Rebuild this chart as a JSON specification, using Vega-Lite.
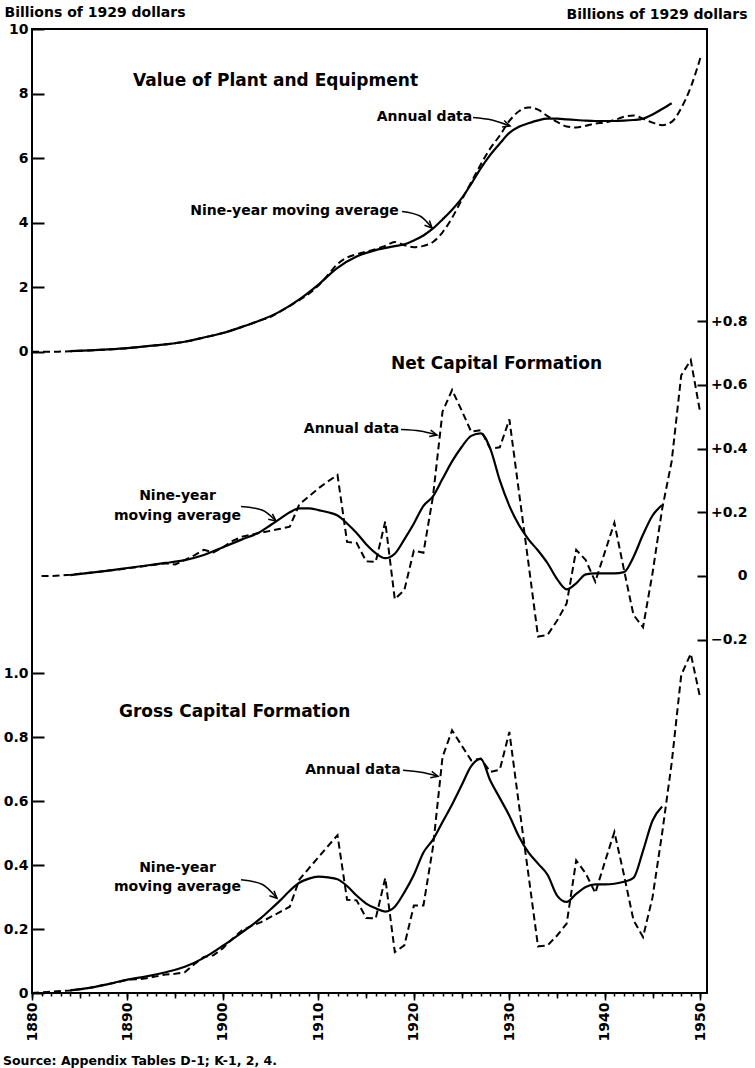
{
"$schema": "https://vega.github.io/schema/vega-lite/v6.json",
"width": 675,
"height": 964,
"autosize": {"type": "none"},
"padding": {"left": 32, "top": 29, "right": 48, "bottom": 75},
"background": "white",
"config": {
  "view": {"stroke": "black", "strokeWidth": 2},
  "font": "DejaVu Sans",
  "axis": {"labelFont": "DejaVu Sans", "labelFontWeight": "bold", "labelFontSize": 14, "labelColor": "black", "tickColor": "black", "tickWidth": 2, "domain": false, "grid": false, "labelFlush": false, "labelOverlap": false, "labelBound": false, "titleColor": "black", "titleFont": "DejaVu Sans", "titleFontWeight": "bold", "titleFontSize": 14}
},
"title": {"text": "Source: Appendix Tables D-1; K-1, 2, 4.", "orient": "bottom", "anchor": "start", "frame": "group", "fontSize": 12.5, "fontWeight": "bold", "font": "DejaVu Sans", "color": "black", "dx": -29, "offset": 14},
"datasets": {
"series": [
{"panel":"plant","kind":"annual","year":1880,"value":0},{"panel":"plant","kind":"annual","year":1881,"value":0},{"panel":"plant","kind":"annual","year":1882,"value":0},{"panel":"plant","kind":"annual","year":1883,"value":0.005},{"panel":"plant","kind":"annual","year":1884,"value":0.015},{"panel":"plant","kind":"annual","year":1885,"value":0.03},{"panel":"plant","kind":"annual","year":1886,"value":0.04},{"panel":"plant","kind":"annual","year":1887,"value":0.055},{"panel":"plant","kind":"annual","year":1888,"value":0.07},{"panel":"plant","kind":"annual","year":1889,"value":0.09},{"panel":"plant","kind":"annual","year":1890,"value":0.11},{"panel":"plant","kind":"annual","year":1891,"value":0.14},{"panel":"plant","kind":"annual","year":1892,"value":0.17},{"panel":"plant","kind":"annual","year":1893,"value":0.2},{"panel":"plant","kind":"annual","year":1894,"value":0.23},{"panel":"plant","kind":"annual","year":1895,"value":0.26},{"panel":"plant","kind":"annual","year":1896,"value":0.31},{"panel":"plant","kind":"annual","year":1897,"value":0.37},{"panel":"plant","kind":"annual","year":1898,"value":0.44},{"panel":"plant","kind":"annual","year":1899,"value":0.51},{"panel":"plant","kind":"annual","year":1900,"value":0.58},{"panel":"plant","kind":"annual","year":1901,"value":0.67},{"panel":"plant","kind":"annual","year":1902,"value":0.77},{"panel":"plant","kind":"annual","year":1903,"value":0.88},{"panel":"plant","kind":"annual","year":1904,"value":0.98},{"panel":"plant","kind":"annual","year":1905,"value":1.08},{"panel":"plant","kind":"annual","year":1906,"value":1.25},{"panel":"plant","kind":"annual","year":1907,"value":1.42},{"panel":"plant","kind":"annual","year":1908,"value":1.6},{"panel":"plant","kind":"annual","year":1909,"value":1.8},{"panel":"plant","kind":"annual","year":1910,"value":2.05},{"panel":"plant","kind":"annual","year":1911,"value":2.38},{"panel":"plant","kind":"annual","year":1912,"value":2.72},{"panel":"plant","kind":"annual","year":1913,"value":2.92},{"panel":"plant","kind":"annual","year":1914,"value":3.02},{"panel":"plant","kind":"annual","year":1915,"value":3.1},{"panel":"plant","kind":"annual","year":1916,"value":3.18},{"panel":"plant","kind":"annual","year":1917,"value":3.28},{"panel":"plant","kind":"annual","year":1918,"value":3.4},{"panel":"plant","kind":"annual","year":1919,"value":3.3},{"panel":"plant","kind":"annual","year":1920,"value":3.24},{"panel":"plant","kind":"annual","year":1921,"value":3.28},{"panel":"plant","kind":"annual","year":1922,"value":3.4},{"panel":"plant","kind":"annual","year":1923,"value":3.7},{"panel":"plant","kind":"annual","year":1924,"value":4.15},{"panel":"plant","kind":"annual","year":1925,"value":4.7},{"panel":"plant","kind":"annual","year":1926,"value":5.25},{"panel":"plant","kind":"annual","year":1927,"value":5.8},{"panel":"plant","kind":"annual","year":1928,"value":6.3},{"panel":"plant","kind":"annual","year":1929,"value":6.7},{"panel":"plant","kind":"annual","year":1930,"value":7.15},{"panel":"plant","kind":"annual","year":1931,"value":7.45},{"panel":"plant","kind":"annual","year":1932,"value":7.57},{"panel":"plant","kind":"annual","year":1933,"value":7.5},{"panel":"plant","kind":"annual","year":1934,"value":7.3},{"panel":"plant","kind":"annual","year":1935,"value":7.12},{"panel":"plant","kind":"annual","year":1936,"value":6.98},{"panel":"plant","kind":"annual","year":1937,"value":6.95},{"panel":"plant","kind":"annual","year":1938,"value":7.0},{"panel":"plant","kind":"annual","year":1939,"value":7.07},{"panel":"plant","kind":"annual","year":1940,"value":7.1},{"panel":"plant","kind":"annual","year":1941,"value":7.18},{"panel":"plant","kind":"annual","year":1942,"value":7.28},{"panel":"plant","kind":"annual","year":1943,"value":7.32},{"panel":"plant","kind":"annual","year":1944,"value":7.22},{"panel":"plant","kind":"annual","year":1945,"value":7.1},{"panel":"plant","kind":"annual","year":1946,"value":7.02},{"panel":"plant","kind":"annual","year":1947,"value":7.12},{"panel":"plant","kind":"annual","year":1948,"value":7.55},{"panel":"plant","kind":"annual","year":1949,"value":8.2},{"panel":"plant","kind":"annual","year":1950,"value":9.1},
{"panel":"plant","kind":"avg","year":1884,"value":0.02},{"panel":"plant","kind":"avg","year":1886,"value":0.04},{"panel":"plant","kind":"avg","year":1888,"value":0.07},{"panel":"plant","kind":"avg","year":1890,"value":0.11},{"panel":"plant","kind":"avg","year":1892,"value":0.17},{"panel":"plant","kind":"avg","year":1894,"value":0.23},{"panel":"plant","kind":"avg","year":1896,"value":0.31},{"panel":"plant","kind":"avg","year":1898,"value":0.44},{"panel":"plant","kind":"avg","year":1900,"value":0.58},{"panel":"plant","kind":"avg","year":1902,"value":0.77},{"panel":"plant","kind":"avg","year":1904,"value":0.98},{"panel":"plant","kind":"avg","year":1906,"value":1.25},{"panel":"plant","kind":"avg","year":1908,"value":1.62},{"panel":"plant","kind":"avg","year":1910,"value":2.08},{"panel":"plant","kind":"avg","year":1912,"value":2.6},{"panel":"plant","kind":"avg","year":1914,"value":2.95},{"panel":"plant","kind":"avg","year":1916,"value":3.15},{"panel":"plant","kind":"avg","year":1918,"value":3.27},{"panel":"plant","kind":"avg","year":1919,"value":3.33},{"panel":"plant","kind":"avg","year":1920,"value":3.45},{"panel":"plant","kind":"avg","year":1921,"value":3.6},{"panel":"plant","kind":"avg","year":1922,"value":3.82},{"panel":"plant","kind":"avg","year":1923,"value":4.1},{"panel":"plant","kind":"avg","year":1924,"value":4.4},{"panel":"plant","kind":"avg","year":1925,"value":4.75},{"panel":"plant","kind":"avg","year":1926,"value":5.2},{"panel":"plant","kind":"avg","year":1927,"value":5.68},{"panel":"plant","kind":"avg","year":1928,"value":6.1},{"panel":"plant","kind":"avg","year":1929,"value":6.45},{"panel":"plant","kind":"avg","year":1930,"value":6.78},{"panel":"plant","kind":"avg","year":1931,"value":6.97},{"panel":"plant","kind":"avg","year":1932,"value":7.08},{"panel":"plant","kind":"avg","year":1933,"value":7.17},{"panel":"plant","kind":"avg","year":1934,"value":7.22},{"panel":"plant","kind":"avg","year":1935,"value":7.22},{"panel":"plant","kind":"avg","year":1936,"value":7.2},{"panel":"plant","kind":"avg","year":1937,"value":7.18},{"panel":"plant","kind":"avg","year":1938,"value":7.16},{"panel":"plant","kind":"avg","year":1939,"value":7.15},{"panel":"plant","kind":"avg","year":1940,"value":7.15},{"panel":"plant","kind":"avg","year":1941,"value":7.15},{"panel":"plant","kind":"avg","year":1942,"value":7.16},{"panel":"plant","kind":"avg","year":1943,"value":7.18},{"panel":"plant","kind":"avg","year":1944,"value":7.22},{"panel":"plant","kind":"avg","year":1945,"value":7.35},{"panel":"plant","kind":"avg","year":1946,"value":7.52},{"panel":"plant","kind":"avg","year":1947,"value":7.7},
{"panel":"net","kind":"annual","year":1881,"value":0},{"panel":"net","kind":"annual","year":1882,"value":0},{"panel":"net","kind":"annual","year":1883,"value":0.002},{"panel":"net","kind":"annual","year":1884,"value":0.004},{"panel":"net","kind":"annual","year":1885,"value":0.007},{"panel":"net","kind":"annual","year":1886,"value":0.01},{"panel":"net","kind":"annual","year":1887,"value":0.013},{"panel":"net","kind":"annual","year":1888,"value":0.017},{"panel":"net","kind":"annual","year":1889,"value":0.02},{"panel":"net","kind":"annual","year":1890,"value":0.024},{"panel":"net","kind":"annual","year":1891,"value":0.028},{"panel":"net","kind":"annual","year":1892,"value":0.032},{"panel":"net","kind":"annual","year":1893,"value":0.036},{"panel":"net","kind":"annual","year":1894,"value":0.04},{"panel":"net","kind":"annual","year":1895,"value":0.036},{"panel":"net","kind":"annual","year":1896,"value":0.05},{"panel":"net","kind":"annual","year":1897,"value":0.065},{"panel":"net","kind":"annual","year":1898,"value":0.082},{"panel":"net","kind":"annual","year":1899,"value":0.074},{"panel":"net","kind":"annual","year":1900,"value":0.09},{"panel":"net","kind":"annual","year":1901,"value":0.11},{"panel":"net","kind":"annual","year":1902,"value":0.123},{"panel":"net","kind":"annual","year":1903,"value":0.13},{"panel":"net","kind":"annual","year":1904,"value":0.136},{"panel":"net","kind":"annual","year":1905,"value":0.142},{"panel":"net","kind":"annual","year":1906,"value":0.148},{"panel":"net","kind":"annual","year":1907,"value":0.155},{"panel":"net","kind":"annual","year":1908,"value":0.225},{"panel":"net","kind":"annual","year":1909,"value":0.25},{"panel":"net","kind":"annual","year":1910,"value":0.275},{"panel":"net","kind":"annual","year":1911,"value":0.297},{"panel":"net","kind":"annual","year":1912,"value":0.317},{"panel":"net","kind":"annual","year":1913,"value":0.107},{"panel":"net","kind":"annual","year":1914,"value":0.104},{"panel":"net","kind":"annual","year":1915,"value":0.046},{"panel":"net","kind":"annual","year":1916,"value":0.044},{"panel":"net","kind":"annual","year":1917,"value":0.171},{"panel":"net","kind":"annual","year":1918,"value":-0.073},{"panel":"net","kind":"annual","year":1919,"value":-0.044},{"panel":"net","kind":"annual","year":1920,"value":0.08},{"panel":"net","kind":"annual","year":1921,"value":0.073},{"panel":"net","kind":"annual","year":1922,"value":0.25},{"panel":"net","kind":"annual","year":1923,"value":0.516},{"panel":"net","kind":"annual","year":1924,"value":0.584},{"panel":"net","kind":"annual","year":1925,"value":0.52},{"panel":"net","kind":"annual","year":1926,"value":0.453},{"panel":"net","kind":"annual","year":1927,"value":0.458},{"panel":"net","kind":"annual","year":1928,"value":0.4},{"panel":"net","kind":"annual","year":1929,"value":0.404},{"panel":"net","kind":"annual","year":1930,"value":0.492},{"panel":"net","kind":"annual","year":1931,"value":0.265},{"panel":"net","kind":"annual","year":1932,"value":0.04},{"panel":"net","kind":"annual","year":1933,"value":-0.19},{"panel":"net","kind":"annual","year":1934,"value":-0.185},{"panel":"net","kind":"annual","year":1935,"value":-0.14},{"panel":"net","kind":"annual","year":1936,"value":-0.086},{"panel":"net","kind":"annual","year":1937,"value":0.082},{"panel":"net","kind":"annual","year":1938,"value":0.05},{"panel":"net","kind":"annual","year":1939,"value":-0.018},{"panel":"net","kind":"annual","year":1940,"value":0.075},{"panel":"net","kind":"annual","year":1941,"value":0.167},{"panel":"net","kind":"annual","year":1942,"value":0.02},{"panel":"net","kind":"annual","year":1943,"value":-0.122},{"panel":"net","kind":"annual","year":1944,"value":-0.161},{"panel":"net","kind":"annual","year":1945,"value":0.01},{"panel":"net","kind":"annual","year":1946,"value":0.21},{"panel":"net","kind":"annual","year":1947,"value":0.36},{"panel":"net","kind":"annual","year":1948,"value":0.63},{"panel":"net","kind":"annual","year":1949,"value":0.678},{"panel":"net","kind":"annual","year":1950,"value":0.511},
{"panel":"net","kind":"avg","year":1884,"value":0.003},{"panel":"net","kind":"avg","year":1886,"value":0.01},{"panel":"net","kind":"avg","year":1888,"value":0.017},{"panel":"net","kind":"avg","year":1890,"value":0.025},{"panel":"net","kind":"avg","year":1892,"value":0.033},{"panel":"net","kind":"avg","year":1894,"value":0.041},{"panel":"net","kind":"avg","year":1896,"value":0.05},{"panel":"net","kind":"avg","year":1898,"value":0.066},{"panel":"net","kind":"avg","year":1900,"value":0.09},{"panel":"net","kind":"avg","year":1902,"value":0.115},{"panel":"net","kind":"avg","year":1904,"value":0.14},{"panel":"net","kind":"avg","year":1905,"value":0.16},{"panel":"net","kind":"avg","year":1906,"value":0.18},{"panel":"net","kind":"avg","year":1907,"value":0.2},{"panel":"net","kind":"avg","year":1908,"value":0.212},{"panel":"net","kind":"avg","year":1909,"value":0.212},{"panel":"net","kind":"avg","year":1910,"value":0.207},{"panel":"net","kind":"avg","year":1911,"value":0.2},{"panel":"net","kind":"avg","year":1912,"value":0.19},{"panel":"net","kind":"avg","year":1913,"value":0.165},{"panel":"net","kind":"avg","year":1914,"value":0.135},{"panel":"net","kind":"avg","year":1915,"value":0.1},{"panel":"net","kind":"avg","year":1916,"value":0.072},{"panel":"net","kind":"avg","year":1917,"value":0.056},{"panel":"net","kind":"avg","year":1918,"value":0.07},{"panel":"net","kind":"avg","year":1919,"value":0.115},{"panel":"net","kind":"avg","year":1920,"value":0.165},{"panel":"net","kind":"avg","year":1921,"value":0.22},{"panel":"net","kind":"avg","year":1922,"value":0.25},{"panel":"net","kind":"avg","year":1923,"value":0.305},{"panel":"net","kind":"avg","year":1924,"value":0.36},{"panel":"net","kind":"avg","year":1925,"value":0.405},{"panel":"net","kind":"avg","year":1926,"value":0.44},{"panel":"net","kind":"avg","year":1927,"value":0.448},{"panel":"net","kind":"avg","year":1928,"value":0.4},{"panel":"net","kind":"avg","year":1929,"value":0.3},{"panel":"net","kind":"avg","year":1930,"value":0.22},{"panel":"net","kind":"avg","year":1931,"value":0.16},{"panel":"net","kind":"avg","year":1932,"value":0.115},{"panel":"net","kind":"avg","year":1933,"value":0.08},{"panel":"net","kind":"avg","year":1934,"value":0.04},{"panel":"net","kind":"avg","year":1935,"value":-0.01},{"panel":"net","kind":"avg","year":1936,"value":-0.042},{"panel":"net","kind":"avg","year":1937,"value":-0.023},{"panel":"net","kind":"avg","year":1938,"value":0.005},{"panel":"net","kind":"avg","year":1939,"value":0.008},{"panel":"net","kind":"avg","year":1940,"value":0.008},{"panel":"net","kind":"avg","year":1941,"value":0.008},{"panel":"net","kind":"avg","year":1942,"value":0.012},{"panel":"net","kind":"avg","year":1943,"value":0.06},{"panel":"net","kind":"avg","year":1944,"value":0.13},{"panel":"net","kind":"avg","year":1945,"value":0.19},{"panel":"net","kind":"avg","year":1946,"value":0.223},
{"panel":"gross","kind":"annual","year":1880,"value":0},{"panel":"gross","kind":"annual","year":1881,"value":0.002},{"panel":"gross","kind":"annual","year":1882,"value":0.004},{"panel":"gross","kind":"annual","year":1883,"value":0.006},{"panel":"gross","kind":"annual","year":1884,"value":0.008},{"panel":"gross","kind":"annual","year":1885,"value":0.012},{"panel":"gross","kind":"annual","year":1886,"value":0.016},{"panel":"gross","kind":"annual","year":1887,"value":0.022},{"panel":"gross","kind":"annual","year":1888,"value":0.028},{"panel":"gross","kind":"annual","year":1889,"value":0.034},{"panel":"gross","kind":"annual","year":1890,"value":0.042},{"panel":"gross","kind":"annual","year":1891,"value":0.043},{"panel":"gross","kind":"annual","year":1892,"value":0.046},{"panel":"gross","kind":"annual","year":1893,"value":0.052},{"panel":"gross","kind":"annual","year":1894,"value":0.058},{"panel":"gross","kind":"annual","year":1895,"value":0.06},{"panel":"gross","kind":"annual","year":1896,"value":0.065},{"panel":"gross","kind":"annual","year":1897,"value":0.09},{"panel":"gross","kind":"annual","year":1898,"value":0.113},{"panel":"gross","kind":"annual","year":1899,"value":0.118},{"panel":"gross","kind":"annual","year":1900,"value":0.14},{"panel":"gross","kind":"annual","year":1901,"value":0.17},{"panel":"gross","kind":"annual","year":1902,"value":0.196},{"panel":"gross","kind":"annual","year":1903,"value":0.21},{"panel":"gross","kind":"annual","year":1904,"value":0.222},{"panel":"gross","kind":"annual","year":1905,"value":0.238},{"panel":"gross","kind":"annual","year":1906,"value":0.254},{"panel":"gross","kind":"annual","year":1907,"value":0.27},{"panel":"gross","kind":"annual","year":1908,"value":0.355},{"panel":"gross","kind":"annual","year":1909,"value":0.39},{"panel":"gross","kind":"annual","year":1910,"value":0.425},{"panel":"gross","kind":"annual","year":1911,"value":0.46},{"panel":"gross","kind":"annual","year":1912,"value":0.494},{"panel":"gross","kind":"annual","year":1913,"value":0.292},{"panel":"gross","kind":"annual","year":1914,"value":0.29},{"panel":"gross","kind":"annual","year":1915,"value":0.235},{"panel":"gross","kind":"annual","year":1916,"value":0.233},{"panel":"gross","kind":"annual","year":1917,"value":0.36},{"panel":"gross","kind":"annual","year":1918,"value":0.128},{"panel":"gross","kind":"annual","year":1919,"value":0.149},{"panel":"gross","kind":"annual","year":1920,"value":0.274},{"panel":"gross","kind":"annual","year":1921,"value":0.274},{"panel":"gross","kind":"annual","year":1922,"value":0.457},{"panel":"gross","kind":"annual","year":1923,"value":0.739},{"panel":"gross","kind":"annual","year":1924,"value":0.822},{"panel":"gross","kind":"annual","year":1925,"value":0.775},{"panel":"gross","kind":"annual","year":1926,"value":0.728},{"panel":"gross","kind":"annual","year":1927,"value":0.734},{"panel":"gross","kind":"annual","year":1928,"value":0.692},{"panel":"gross","kind":"annual","year":1929,"value":0.699},{"panel":"gross","kind":"annual","year":1930,"value":0.817},{"panel":"gross","kind":"annual","year":1931,"value":0.59},{"panel":"gross","kind":"annual","year":1932,"value":0.37},{"panel":"gross","kind":"annual","year":1933,"value":0.146},{"panel":"gross","kind":"annual","year":1934,"value":0.149},{"panel":"gross","kind":"annual","year":1935,"value":0.18},{"panel":"gross","kind":"annual","year":1936,"value":0.217},{"panel":"gross","kind":"annual","year":1937,"value":0.415},{"panel":"gross","kind":"annual","year":1938,"value":0.374},{"panel":"gross","kind":"annual","year":1939,"value":0.313},{"panel":"gross","kind":"annual","year":1940,"value":0.41},{"panel":"gross","kind":"annual","year":1941,"value":0.504},{"panel":"gross","kind":"annual","year":1942,"value":0.37},{"panel":"gross","kind":"annual","year":1943,"value":0.228},{"panel":"gross","kind":"annual","year":1944,"value":0.175},{"panel":"gross","kind":"annual","year":1945,"value":0.3},{"panel":"gross","kind":"annual","year":1946,"value":0.5},{"panel":"gross","kind":"annual","year":1947,"value":0.72},{"panel":"gross","kind":"annual","year":1948,"value":0.995},{"panel":"gross","kind":"annual","year":1949,"value":1.062},{"panel":"gross","kind":"annual","year":1950,"value":0.922},
{"panel":"gross","kind":"avg","year":1884,"value":0.008},{"panel":"gross","kind":"avg","year":1886,"value":0.016},{"panel":"gross","kind":"avg","year":1888,"value":0.028},{"panel":"gross","kind":"avg","year":1890,"value":0.042},{"panel":"gross","kind":"avg","year":1892,"value":0.052},{"panel":"gross","kind":"avg","year":1894,"value":0.065},{"panel":"gross","kind":"avg","year":1896,"value":0.082},{"panel":"gross","kind":"avg","year":1898,"value":0.11},{"panel":"gross","kind":"avg","year":1900,"value":0.148},{"panel":"gross","kind":"avg","year":1902,"value":0.19},{"panel":"gross","kind":"avg","year":1904,"value":0.235},{"panel":"gross","kind":"avg","year":1905,"value":0.262},{"panel":"gross","kind":"avg","year":1906,"value":0.29},{"panel":"gross","kind":"avg","year":1907,"value":0.32},{"panel":"gross","kind":"avg","year":1908,"value":0.345},{"panel":"gross","kind":"avg","year":1909,"value":0.358},{"panel":"gross","kind":"avg","year":1910,"value":0.364},{"panel":"gross","kind":"avg","year":1911,"value":0.362},{"panel":"gross","kind":"avg","year":1912,"value":0.356},{"panel":"gross","kind":"avg","year":1913,"value":0.335},{"panel":"gross","kind":"avg","year":1914,"value":0.305},{"panel":"gross","kind":"avg","year":1915,"value":0.28},{"panel":"gross","kind":"avg","year":1916,"value":0.265},{"panel":"gross","kind":"avg","year":1917,"value":0.255},{"panel":"gross","kind":"avg","year":1918,"value":0.27},{"panel":"gross","kind":"avg","year":1919,"value":0.315},{"panel":"gross","kind":"avg","year":1920,"value":0.37},{"panel":"gross","kind":"avg","year":1921,"value":0.44},{"panel":"gross","kind":"avg","year":1922,"value":0.48},{"panel":"gross","kind":"avg","year":1923,"value":0.535},{"panel":"gross","kind":"avg","year":1924,"value":0.59},{"panel":"gross","kind":"avg","year":1925,"value":0.65},{"panel":"gross","kind":"avg","year":1926,"value":0.71},{"panel":"gross","kind":"avg","year":1927,"value":0.733},{"panel":"gross","kind":"avg","year":1928,"value":0.665},{"panel":"gross","kind":"avg","year":1929,"value":0.61},{"panel":"gross","kind":"avg","year":1930,"value":0.555},{"panel":"gross","kind":"avg","year":1931,"value":0.49},{"panel":"gross","kind":"avg","year":1932,"value":0.44},{"panel":"gross","kind":"avg","year":1933,"value":0.405},{"panel":"gross","kind":"avg","year":1934,"value":0.37},{"panel":"gross","kind":"avg","year":1935,"value":0.305},{"panel":"gross","kind":"avg","year":1936,"value":0.285},{"panel":"gross","kind":"avg","year":1937,"value":0.31},{"panel":"gross","kind":"avg","year":1938,"value":0.332},{"panel":"gross","kind":"avg","year":1939,"value":0.34},{"panel":"gross","kind":"avg","year":1940,"value":0.34},{"panel":"gross","kind":"avg","year":1941,"value":0.342},{"panel":"gross","kind":"avg","year":1942,"value":0.348},{"panel":"gross","kind":"avg","year":1943,"value":0.36},{"panel":"gross","kind":"avg","year":1944,"value":0.445},{"panel":"gross","kind":"avg","year":1945,"value":0.54},{"panel":"gross","kind":"avg","year":1946,"value":0.584}
],
"notes": [
{"panel":"plant","kind":"title","label":"Value of Plant and Equipment","year":1890.58,"value":8.39},
{"panel":"plant","kind":"note","label":"Annual data","year":1921.11,"value":7.273},
{"panel":"plant","kind":"note","label":"Nine-year moving average","year":1907.5,"value":4.36},
{"panel":"net","kind":"title","label":"Net Capital Formation","year":1917.6,"value":0.6656},
{"panel":"net","kind":"note","label":"Annual data","year":1913.47,"value":0.4615},
{"panel":"net","kind":"note","label":"Nine-year\nmoving average","year":1895.24,"value":0.2504},
{"panel":"gross","kind":"title","label":"Gross Capital Formation","year":1889.11,"value":0.8788},
{"panel":"gross","kind":"note","label":"Annual data","year":1913.62,"value":0.6972},
{"panel":"gross","kind":"note","label":"Nine-year\nmoving average","year":1895.24,"value":0.392}
],
"arrows": [
{"panel":"plant","id":"a1","part":"shaft","seq":1,"year":1926.19,"value":7.258},{"panel":"plant","id":"a1","part":"shaft","seq":2,"year":1928.18,"value":7.18},{"panel":"plant","id":"a1","part":"shaft","seq":3,"year":1930.07,"value":6.994},
{"panel":"plant","id":"a1","part":"head","seq":1,"year":1929.46,"value":7.165},{"panel":"plant","id":"a1","part":"head","seq":2,"year":1930.07,"value":6.994},{"panel":"plant","id":"a1","part":"head","seq":3,"year":1929.24,"value":6.966},
{"panel":"plant","id":"a2","part":"shaft","seq":1,"year":1918.76,"value":4.345},{"panel":"plant","id":"a2","part":"shaft","seq":2,"year":1920.64,"value":4.205},{"panel":"plant","id":"a2","part":"shaft","seq":3,"year":1921.9,"value":3.833},
{"panel":"plant","id":"a2","part":"head","seq":1,"year":1921.62,"value":4.066},{"panel":"plant","id":"a2","part":"head","seq":2,"year":1921.9,"value":3.833},{"panel":"plant","id":"a2","part":"head","seq":3,"year":1921.11,"value":3.917},
{"panel":"net","id":"b1","part":"shaft","seq":1,"year":1918.65,"value":0.46},{"panel":"net","id":"b1","part":"shaft","seq":2,"year":1920.64,"value":0.4553},{"panel":"net","id":"b1","part":"shaft","seq":3,"year":1922.42,"value":0.4427},
{"panel":"net","id":"b1","part":"head","seq":1,"year":1921.76,"value":0.4581},{"panel":"net","id":"b1","part":"head","seq":2,"year":1922.42,"value":0.4427},{"panel":"net","id":"b1","part":"head","seq":3,"year":1921.6,"value":0.4377},
{"panel":"net","id":"b2","part":"shaft","seq":1,"year":1901.89,"value":0.2182},{"panel":"net","id":"b2","part":"shaft","seq":2,"year":1904.09,"value":0.2072},{"panel":"net","id":"b2","part":"shaft","seq":3,"year":1905.56,"value":0.1727},
{"panel":"net","id":"b2","part":"head","seq":1,"year":1905.18,"value":0.195},{"panel":"net","id":"b2","part":"head","seq":2,"year":1905.56,"value":0.1727},{"panel":"net","id":"b2","part":"head","seq":3,"year":1904.74,"value":0.1783},
{"panel":"gross","id":"c1","part":"shaft","seq":1,"year":1918.86,"value":0.6972},{"panel":"gross","id":"c1","part":"shaft","seq":2,"year":1920.75,"value":0.691},{"panel":"gross","id":"c1","part":"shaft","seq":3,"year":1922.53,"value":0.6785},
{"panel":"gross","id":"c1","part":"head","seq":1,"year":1921.87,"value":0.6938},{"panel":"gross","id":"c1","part":"head","seq":2,"year":1922.53,"value":0.6785},{"panel":"gross","id":"c1","part":"head","seq":3,"year":1921.71,"value":0.6735},
{"panel":"gross","id":"c2","part":"shaft","seq":1,"year":1901.89,"value":0.3544},{"panel":"gross","id":"c2","part":"shaft","seq":2,"year":1904.09,"value":0.3403},{"panel":"gross","id":"c2","part":"shaft","seq":3,"year":1905.66,"value":0.2965},
{"panel":"gross","id":"c2","part":"head","seq":1,"year":1905.35,"value":0.3197},{"panel":"gross","id":"c2","part":"head","seq":2,"year":1905.66,"value":0.2965},{"panel":"gross","id":"c2","part":"head","seq":3,"year":1904.87,"value":0.3043}
]
},
"layer": [
{
 "encoding": {
  "x": {"field": "year", "type": "quantitative", "scale": {"domain": [1880, 1950.7], "nice": false, "zero": false}, "axis": {"orient": "bottom", "title": null, "labels": false, "tickSize": 3, "tickWidth": 1.5, "values": [1880,1881,1882,1883,1884,1885,1886,1887,1888,1889,1890,1891,1892,1893,1894,1895,1896,1897,1898,1899,1900,1901,1902,1903,1904,1905,1906,1907,1908,1909,1910,1911,1912,1913,1914,1915,1916,1917,1918,1919,1920,1921,1922,1923,1924,1925,1926,1927,1928,1929,1930,1931,1932,1933,1934,1935,1936,1937,1938,1939,1940,1941,1942,1943,1944,1945,1946,1947,1948,1949,1950]}},
  "y": {"field": "value", "type": "quantitative", "scale": {"domain": [-19.87, 10], "nice": false, "zero": false}, "axis": {"orient": "left", "values": [0, 2, 4, 6, 8, 10], "format": "d", "ticks": false, "labelPadding": 4, "grid": true, "gridColor": "black", "gridWidth": 2, "gridOpacity": 1, "gridDash": [12, 2000], "title": "Billions of 1929 dollars", "titleAngle": 0, "titleAlign": "left", "titleBaseline": "middle", "titleX": -28, "titleY": -17}}
 },
 "layer": [
  {"data": {"name": "series"}, "transform": [{"filter": "datum.panel == 'plant' && datum.kind == 'annual'"}], "mark": {"type": "line", "stroke": "black", "strokeWidth": 2, "strokeDash": [7, 4], "interpolate": "monotone"}},
  {"data": {"name": "series"}, "transform": [{"filter": "datum.panel == 'plant' && datum.kind == 'avg'"}], "mark": {"type": "line", "stroke": "black", "strokeWidth": 2.2, "interpolate": "monotone"}},
  {"data": {"name": "notes"}, "transform": [{"filter": "datum.panel == 'plant' && datum.kind == 'title'"}], "mark": {"type": "text", "align": "left", "baseline": "middle", "fontSize": 17, "fontWeight": "bold", "color": "black"}, "encoding": {"text": {"field": "label"}}},
  {"data": {"name": "notes"}, "transform": [{"filter": "datum.panel == 'plant' && datum.kind == 'note'"}], "mark": {"type": "text", "align": "center", "baseline": "middle", "fontSize": 14, "fontWeight": "bold", "color": "black", "lineBreak": "\n", "lineHeight": 19.5}, "encoding": {"text": {"field": "label"}}},
  {"data": {"name": "arrows"}, "transform": [{"filter": "datum.panel == 'plant' && datum.part == 'shaft'"}], "mark": {"type": "line", "stroke": "black", "strokeWidth": 1.5, "interpolate": "monotone"}, "encoding": {"detail": {"field": "id"}, "order": {"field": "seq"}}},
  {"data": {"name": "arrows"}, "transform": [{"filter": "datum.panel == 'plant' && datum.part == 'head'"}], "mark": {"type": "line", "stroke": "black", "strokeWidth": 1.5}, "encoding": {"detail": {"field": "id"}, "order": {"field": "seq"}}}
 ]
},
{
 "encoding": {
  "x": {"field": "year", "type": "quantitative", "scale": {"domain": [1880, 1950.7], "nice": false, "zero": false}, "axis": {"orient": "bottom", "title": null, "labels": false, "tickSize": 5, "tickWidth": 1.5, "values": [1880,1885,1890,1895,1900,1905,1910,1915,1920,1925,1930,1935,1940,1945,1950]}},
  "y": {"field": "value", "type": "quantitative", "scale": {"domain": [-1.3093, 1.7174], "nice": false, "zero": false}, "axis": {"orient": "right", "values": [-0.2, 0, 0.2, 0.4, 0.6, 0.8], "labelExpr": "datum.value > 0 ? '+' + format(datum.value, '.1f') : (datum.value < 0 ? '\u2212' + format(-datum.value, '.1f') : '0')", "labelAlign": "right", "ticks": false, "labelPadding": 40, "grid": true, "gridColor": "black", "gridWidth": 2, "gridOpacity": 1, "gridDash": [10, 2000], "title": "Billions of 1929 dollars", "titleAngle": 0, "titleAlign": "right", "titleBaseline": "middle", "titleX": 40, "titleY": -15}}
 },
 "layer": [
  {"data": {"name": "series"}, "transform": [{"filter": "datum.panel == 'net' && datum.kind == 'annual'"}], "mark": {"type": "line", "stroke": "black", "strokeWidth": 2, "strokeDash": [7, 4]}},
  {"data": {"name": "series"}, "transform": [{"filter": "datum.panel == 'net' && datum.kind == 'avg'"}], "mark": {"type": "line", "stroke": "black", "strokeWidth": 2.2, "interpolate": "monotone"}},
  {"data": {"name": "notes"}, "transform": [{"filter": "datum.panel == 'net' && datum.kind == 'title'"}], "mark": {"type": "text", "align": "left", "baseline": "middle", "fontSize": 17, "fontWeight": "bold", "color": "black"}, "encoding": {"text": {"field": "label"}}},
  {"data": {"name": "notes"}, "transform": [{"filter": "datum.panel == 'net' && datum.kind == 'note'"}], "mark": {"type": "text", "align": "center", "baseline": "middle", "fontSize": 14, "fontWeight": "bold", "color": "black", "lineBreak": "\n", "lineHeight": 19.5}, "encoding": {"text": {"field": "label"}}},
  {"data": {"name": "arrows"}, "transform": [{"filter": "datum.panel == 'net' && datum.part == 'shaft'"}], "mark": {"type": "line", "stroke": "black", "strokeWidth": 1.5, "interpolate": "monotone"}, "encoding": {"detail": {"field": "id"}, "order": {"field": "seq"}}},
  {"data": {"name": "arrows"}, "transform": [{"filter": "datum.panel == 'net' && datum.part == 'head'"}], "mark": {"type": "line", "stroke": "black", "strokeWidth": 1.5}, "encoding": {"detail": {"field": "id"}, "order": {"field": "seq"}}}
 ]
},
{
 "encoding": {
  "x": {"field": "year", "type": "quantitative", "scale": {"domain": [1880, 1950.7], "nice": false, "zero": false}, "axis": {"orient": "bottom", "title": null, "tickSize": 7, "tickWidth": 1.5, "values": [1880,1890,1900,1910,1920,1930,1940,1950], "format": "d", "labelAngle": 270, "labelAlign": "right", "labelBaseline": "middle", "labelPadding": 2}},
  "y": {"field": "value", "type": "quantitative", "scale": {"domain": [0, 3.0172], "nice": false, "zero": false}, "axis": {"orient": "left", "values": [0, 0.2, 0.4, 0.6, 0.8, 1], "labelExpr": "datum.value == 0 ? '0' : format(datum.value, '.1f')", "ticks": false, "labelPadding": 4, "grid": true, "gridColor": "black", "gridWidth": 2, "gridOpacity": 1, "gridDash": [12, 2000], "title": null}}
 },
 "layer": [
  {"data": {"name": "series"}, "transform": [{"filter": "datum.panel == 'gross' && datum.kind == 'annual'"}], "mark": {"type": "line", "stroke": "black", "strokeWidth": 2, "strokeDash": [7, 4]}},
  {"data": {"name": "series"}, "transform": [{"filter": "datum.panel == 'gross' && datum.kind == 'avg'"}], "mark": {"type": "line", "stroke": "black", "strokeWidth": 2.2, "interpolate": "monotone"}},
  {"data": {"name": "notes"}, "transform": [{"filter": "datum.panel == 'gross' && datum.kind == 'title'"}], "mark": {"type": "text", "align": "left", "baseline": "middle", "fontSize": 17, "fontWeight": "bold", "color": "black"}, "encoding": {"text": {"field": "label"}}},
  {"data": {"name": "notes"}, "transform": [{"filter": "datum.panel == 'gross' && datum.kind == 'note'"}], "mark": {"type": "text", "align": "center", "baseline": "middle", "fontSize": 14, "fontWeight": "bold", "color": "black", "lineBreak": "\n", "lineHeight": 19.5}, "encoding": {"text": {"field": "label"}}},
  {"data": {"name": "arrows"}, "transform": [{"filter": "datum.panel == 'gross' && datum.part == 'shaft'"}], "mark": {"type": "line", "stroke": "black", "strokeWidth": 1.5, "interpolate": "monotone"}, "encoding": {"detail": {"field": "id"}, "order": {"field": "seq"}}},
  {"data": {"name": "arrows"}, "transform": [{"filter": "datum.panel == 'gross' && datum.part == 'head'"}], "mark": {"type": "line", "stroke": "black", "strokeWidth": 1.5}, "encoding": {"detail": {"field": "id"}, "order": {"field": "seq"}}}
 ]
}
],
"resolve": {"scale": {"x": "independent", "y": "independent"}}
}
